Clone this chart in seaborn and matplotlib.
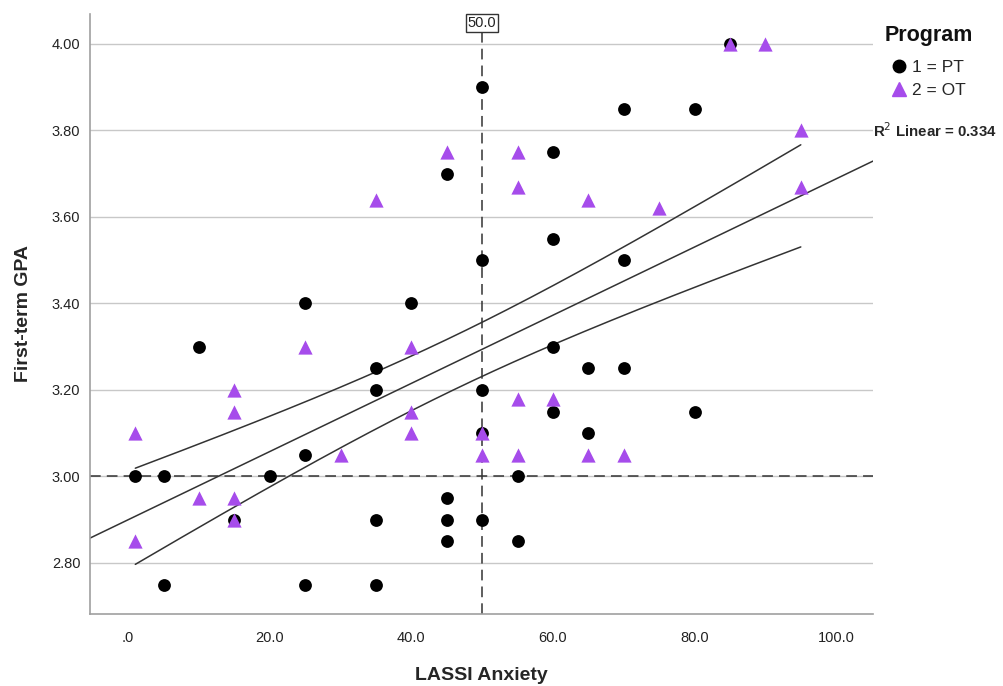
import numpy as np
import pandas as pd
import matplotlib
matplotlib.use("Agg")
import matplotlib.pyplot as plt
from matplotlib.lines import Line2D
import seaborn as sns

# LASSI Anxiety (x) and first-term GPA (y) per program
pt_anxiety = [1, 5, 5, 10, 15, 20, 25, 25, 25, 35, 35, 35, 35, 40, 45, 45, 45, 45,
              50, 50, 50, 50, 50, 55, 55, 60, 60, 60, 60, 65, 65, 70, 70, 70, 80, 80, 85]
pt_gpa = [3.00, 3.00, 2.75, 3.30, 2.90, 3.00, 3.40, 3.05, 2.75, 3.25, 3.20, 2.90, 2.75,
          3.40, 3.70, 2.95, 2.90, 2.85, 3.90, 3.50, 3.20, 3.10, 2.90, 3.00, 2.85,
          3.75, 3.55, 3.30, 3.15, 3.25, 3.10, 3.85, 3.50, 3.25, 3.85, 3.15, 4.00]

ot_anxiety = [1, 1, 10, 15, 15, 15, 15, 25, 30, 35, 40, 40, 40, 45, 50, 50, 55, 55, 55,
              55, 60, 65, 65, 70, 75, 85, 90, 95, 95]
ot_gpa = [3.10, 2.85, 2.95, 3.20, 3.15, 2.95, 2.90, 3.30, 3.05, 3.64, 3.30, 3.15, 3.10,
          3.75, 3.10, 3.05, 3.75, 3.67, 3.18, 3.05, 3.18, 3.64, 3.05, 3.05, 3.62,
          4.00, 4.00, 3.80, 3.67]

programs = ["1 = PT", "2 = OT"]
x_ref, y_ref = 50.0, 3.00
x_ticks = [0, 20, 40, 60, 80, 100]
x_tick_labels = [".0", "20.0", "40.0", "60.0", "80.0", "100.0"]
y_ticks = [2.80, 3.00, 3.20, 3.40, 3.60, 3.80, 4.00]
r2_label = "R$^2$ Linear = 0.334"

# total fit line and its 95% mean-CI
fit_intercept = 2.900
fit_slope = 0.00788
ci_center = 46.0
ci_half_at_center = 0.062
ci_half_growth = 0.00205

PT_COLOR = "#000000"
OT_COLOR = "#a64ceb"
LINE_COLOR = "#333333"

df = pd.DataFrame({
    "anxiety": pt_anxiety + ot_anxiety,
    "gpa": pt_gpa + ot_gpa,
    "program": [programs[0]] * len(pt_anxiety) + [programs[1]] * len(ot_anxiety),
})

sns.set_style("white")
plt.rcParams["font.family"] = ["Liberation Sans", "DejaVu Sans"]

fig = plt.figure(figsize=(10.04, 6.86), dpi=100)
ax = fig.add_axes([90 / 1004, 1 - 614 / 686, (873 - 90) / 1004, 600 / 686])

ax.set_xlim(-5.4, 105.2)
ax.set_ylim(2.682, 4.069)

for yt in y_ticks:
    ax.axhline(yt, color="#c8c8c8", lw=1.0, zorder=0)

xl = np.array(ax.get_xlim())
ax.plot(xl, fit_intercept + fit_slope * xl, color=LINE_COLOR, lw=1.1, zorder=2)
xs = np.linspace(df["anxiety"].min(), df["anxiety"].max(), 200)
fit = fit_intercept + fit_slope * xs
half = np.sqrt(ci_half_at_center ** 2 + (ci_half_growth * (xs - ci_center)) ** 2)
ax.plot(xs, fit + half, color=LINE_COLOR, lw=1.1, zorder=2)
ax.plot(xs, fit - half, color=LINE_COLOR, lw=1.1, zorder=2)

ax.axvline(x_ref, color=LINE_COLOR, lw=1.1, ls=(0, (7, 4)), zorder=2)
ax.axhline(y_ref, color=LINE_COLOR, lw=1.1, ls=(0, (7, 4)), zorder=2)

sns.scatterplot(data=df[df["program"] == programs[0]], x="anxiety", y="gpa",
                color=PT_COLOR, marker="o", s=85, linewidth=0, ax=ax, zorder=3)
sns.scatterplot(data=df[df["program"] == programs[1]], x="anxiety", y="gpa",
                color=OT_COLOR, marker="^", s=105, linewidth=0, ax=ax, zorder=3)

ax.text(x_ref, 4.064, f"{x_ref:.1f}", ha="center", va="top", fontsize=10.5,
        color="#222222",
        bbox=dict(boxstyle="square,pad=0.12", fc="white", ec="#333333", lw=1.0))

ax.set_xticks(x_ticks)
ax.set_xticklabels(x_tick_labels)
ax.set_yticks(y_ticks)
ax.set_yticklabels([f"{v:.2f}" for v in y_ticks])
ax.tick_params(axis="both", length=0, labelsize=10.5, colors="#222222")
ax.tick_params(axis="x", pad=12)
ax.tick_params(axis="y", pad=7)

for side in ["top", "right"]:
    ax.spines[side].set_visible(False)
for side in ["left", "bottom"]:
    ax.spines[side].set_color("#a0a0a0")
    ax.spines[side].set_linewidth(1.2)

ax.set_xlabel("LASSI Anxiety", fontsize=14, fontweight="bold", labelpad=16)
ax.set_ylabel("First-term GPA", fontsize=14, fontweight="bold", labelpad=14)

fig.text(885 / 1004, 1 - 36 / 686, "Program", ha="left", va="center",
         fontsize=15.5, fontweight="bold", color="#111111")
handles = [
    Line2D([], [], ls="", marker="o", color=PT_COLOR, markersize=9),
    Line2D([], [], ls="", marker="^", color=OT_COLOR, markersize=10),
]
fig.legend(handles, programs, loc="upper left",
           bbox_to_anchor=(889 / 1004, 1 - 60 / 686), frameon=False,
           fontsize=12.5, handletextpad=0.1, labelspacing=0.45,
           borderaxespad=0, borderpad=0, handlelength=1.2)

fig.text(873 / 1004, 1 - 131 / 686, r2_label, ha="left", va="center",
         fontsize=10.8, fontweight="bold")

fig.savefig("out.png", dpi=100)
